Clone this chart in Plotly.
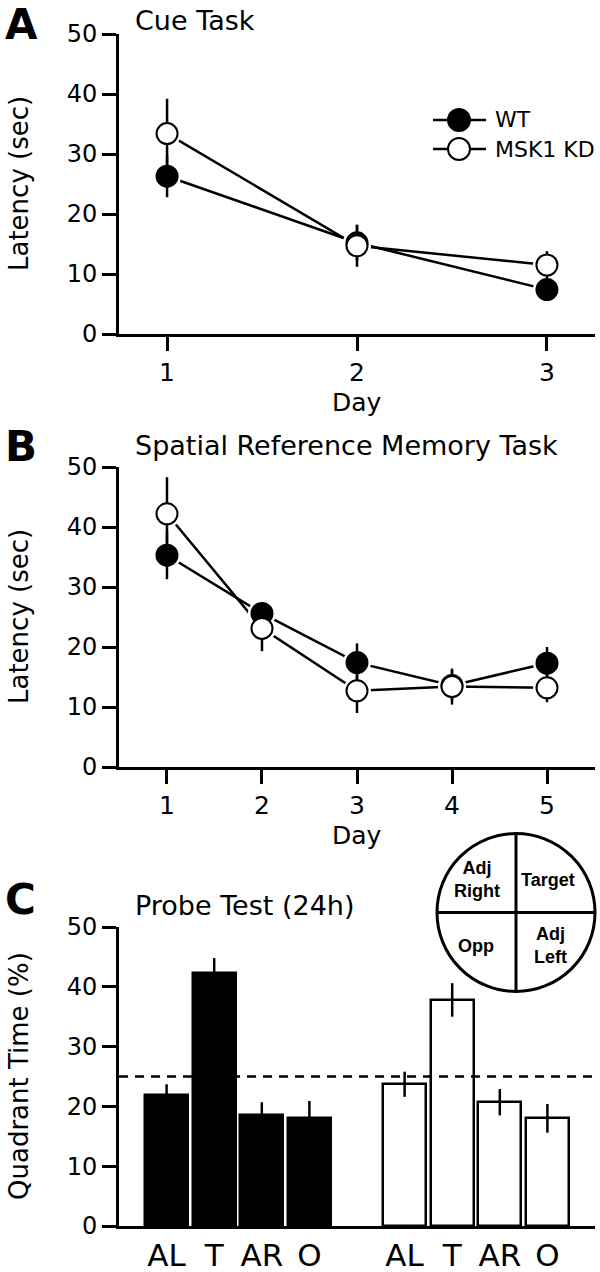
import plotly.graph_objects as go

# ---------------- data ----------------
days_cue = [1, 2, 3]
cue_wt = [26.3, 15.2, 7.4]
cue_wt_err = [3.5, 3.0, 1.5]
cue_kd = [33.4, 14.7, 11.5]
cue_kd_err = [5.8, 3.5, 2.3]

days_srm = [1, 2, 3, 4, 5]
srm_wt = [35.3, 25.6, 17.4, 13.6, 17.3]
srm_wt_err = [4.0, 1.9, 3.2, 2.5, 2.7]
srm_kd = [42.2, 23.1, 12.7, 13.4, 13.2]
srm_kd_err = [6.1, 3.8, 3.7, 3.0, 2.4]

quadrants = ["AL", "T", "AR", "O"]
probe_wt = [21.9, 42.3, 18.6, 18.0]
probe_wt_err = [1.8, 2.5, 2.1, 2.9]
probe_kd = [23.7, 37.8, 20.7, 18.0]
probe_kd_err = [2.1, 2.8, 2.2, 2.4]
chance_level = 25

series_names = ["WT", "MSK1 KD"]
quad_diagram = ["Adj<br>Right", "Target", "Opp", "Adj<br>Left"]

# ---------------- layout helpers ----------------
W, H = 600, 1272
FONT = "DejaVu Sans"


def px(x):
    return x / W


def py(y):
    return 1 - y / H


fig = go.Figure()

# bar positions (two groups separated by one empty slot)
pos_wt = [i + 1 for i in range(len(quadrants))]
pos_kd = [i + 2 + len(quadrants) for i in range(len(quadrants))]

panels = [
    ("", days_cue, cue_wt, cue_wt_err, cue_kd, cue_kd_err),
    ("2", days_srm, srm_wt, srm_wt_err, srm_kd, srm_kd_err),
]

for sfx, xs, wt, wte, kd, kde in panels:
    xa, ya = "x" + sfx, "y" + sfx
    for vals in (wt, kd):
        fig.add_trace(go.Scatter(x=xs, y=vals, mode="lines", xaxis=xa, yaxis=ya,
                                 line=dict(color="black", width=2.5), showlegend=False,
                                 hoverinfo="skip"))
    for vals in (wt, kd):
        fig.add_trace(go.Scatter(x=xs, y=vals, mode="markers", xaxis=xa, yaxis=ya,
                                 marker=dict(color="white", size=28, line=dict(width=0)),
                                 showlegend=False, hoverinfo="skip"))
    for name, vals, err, fill in ((series_names[0], wt, wte, "black"),
                                  (series_names[1], kd, kde, "white")):
        fig.add_trace(go.Scatter(x=xs, y=vals, mode="markers", name=name, xaxis=xa, yaxis=ya,
                                 marker=dict(color=fill, size=21, line=dict(color="black", width=2)),
                                 error_y=dict(type="data", array=err, color="black",
                                              thickness=2.5, width=0),
                                 showlegend=False))

# bars
fig.add_trace(go.Bar(x=pos_wt, y=probe_wt, width=0.9, xaxis="x3", yaxis="y3", name="WT",
                     marker=dict(color="black", line=dict(color="black", width=2.5)),
                     error_y=dict(type="data", array=probe_wt_err, color="black",
                                  thickness=2.5, width=0),
                     showlegend=False))
fig.add_trace(go.Bar(x=pos_kd, y=probe_kd, width=0.9, xaxis="x3", yaxis="y3", name="MSK1 KD",
                     marker=dict(color="white", line=dict(color="black", width=2.5)),
                     error_y=dict(type="data", array=probe_kd_err, color="black",
                                  thickness=2.5, width=0),
                     showlegend=False))

axis_common = dict(showline=True, linecolor="black", linewidth=3, showgrid=False,
                   zeroline=False, ticks="outside", ticklen=14, tickwidth=3,
                   tickcolor="black", fixedrange=True, automargin=False)

xdom = [px(119), px(595)]
fig.update_layout(
    width=W, height=H, margin=dict(l=0, r=0, t=0, b=0, pad=0, autoexpand=False),
    paper_bgcolor="white", plot_bgcolor="white", showlegend=False,
    font=dict(family=FONT, color="black"),
    xaxis=dict(domain=xdom, range=[0.747, 3.253], anchor="y", tickvals=days_cue,
               tickfont=dict(size=25, family=FONT), **axis_common),
    yaxis=dict(domain=[py(334), py(34)], range=[0, 50], anchor="x", tickvals=[0, 10, 20, 30, 40, 50],
               tickfont=dict(size=24, family=FONT), **axis_common),
    xaxis2=dict(domain=xdom, range=[0.495, 5.505], anchor="y2", tickvals=days_srm,
                tickfont=dict(size=25, family=FONT), **axis_common),
    yaxis2=dict(domain=[py(767), py(467)], range=[0, 50], anchor="x2", tickvals=[0, 10, 20, 30, 40, 50],
                tickfont=dict(size=24, family=FONT), **axis_common),
    xaxis3=dict(domain=xdom, range=[0, 10], anchor="y3", tickvals=pos_wt + pos_kd,
                ticktext=quadrants + quadrants, tickfont=dict(size=31, family=FONT),
                **{**axis_common, "ticks": ""}),
    yaxis3=dict(domain=[py(1226), py(927)], range=[0, 50], anchor="x3", tickvals=[0, 10, 20, 30, 40, 50],
                tickfont=dict(size=24, family=FONT), **axis_common),
    bargap=0,
)

# chance line
fig.add_shape(type="line", xref="x3 domain", yref="y3", x0=0, x1=1, y0=chance_level, y1=chance_level,
              line=dict(color="black", width=2.5, dash="9px,7px"), layer="above")

ann = []


def text(x, y, s, size, bold=False, anchor="center", angle=0, family=FONT):
    ann.append(dict(x=px(x), y=py(y), xref="paper", yref="paper", text=f"<b>{s}</b>" if bold else s,
                    showarrow=False, xanchor=anchor, yanchor="middle", textangle=angle,
                    font=dict(size=size, family=family, color="black")))


# panel letters
text(3, 25, "A", 42, bold=True, anchor="left")
text(3, 447, "B", 42, bold=True, anchor="left")
text(3, 900, "C", 42, bold=True, anchor="left")
# titles
text(133, 21, "Cue Task", 27, anchor="left")
text(133, 445, "Spatial Reference Memory Task", 27, anchor="left")
text(133, 905, "Probe Test (24h)", 27, anchor="left")
# axis titles
text(357, 402, "Day", 25)
text(357, 835, "Day", 25)
text(19, 184, "Latency (sec)", 26, angle=-90)
text(19, 617, "Latency (sec)", 26, angle=-90)
text(19, 1076, "Quadrant Time (%)", 26, angle=-90)

# legend
for i, (nm, fill) in enumerate(zip(series_names, ["black", "white"])):
    yy = 120 + 29 * i
    fig.add_shape(type="line", xref="paper", yref="paper", x0=px(433), x1=px(486), y0=py(yy), y1=py(yy),
                  line=dict(color="black", width=2.5))
    fig.add_shape(type="circle", xref="paper", yref="paper", x0=px(459 - 11), x1=px(459 + 11),
                  y0=py(yy + 11), y1=py(yy - 11), fillcolor=fill, line=dict(color="black", width=2))
    text(493, yy, nm, 22, anchor="left")

# quadrant diagram
cx, cy, r = 516, 912.5, 79
fig.add_shape(type="circle", xref="paper", yref="paper", x0=px(cx - r), x1=px(cx + r),
              y0=py(cy + r), y1=py(cy - r), line=dict(color="black", width=3), fillcolor="white")
fig.add_shape(type="line", xref="paper", yref="paper", x0=px(cx - r), x1=px(cx + r), y0=py(cy), y1=py(cy),
              line=dict(color="black", width=3))
fig.add_shape(type="line", xref="paper", yref="paper", x0=px(cx), x1=px(cx), y0=py(cy - r), y1=py(cy + r),
              line=dict(color="black", width=3))
for lbl, (dx, dy) in zip(quad_diagram, [(-39, -33), (32, -33), (-40, 33), (34, 33)]):
    text(cx + dx, cy + dy, lbl, 18, bold=True, family="Liberation Sans")

fig.update_layout(annotations=ann)
fig.write_html("out.html", config={"displayModeBar": False},
               post_script="document.body.style.margin='0';")
